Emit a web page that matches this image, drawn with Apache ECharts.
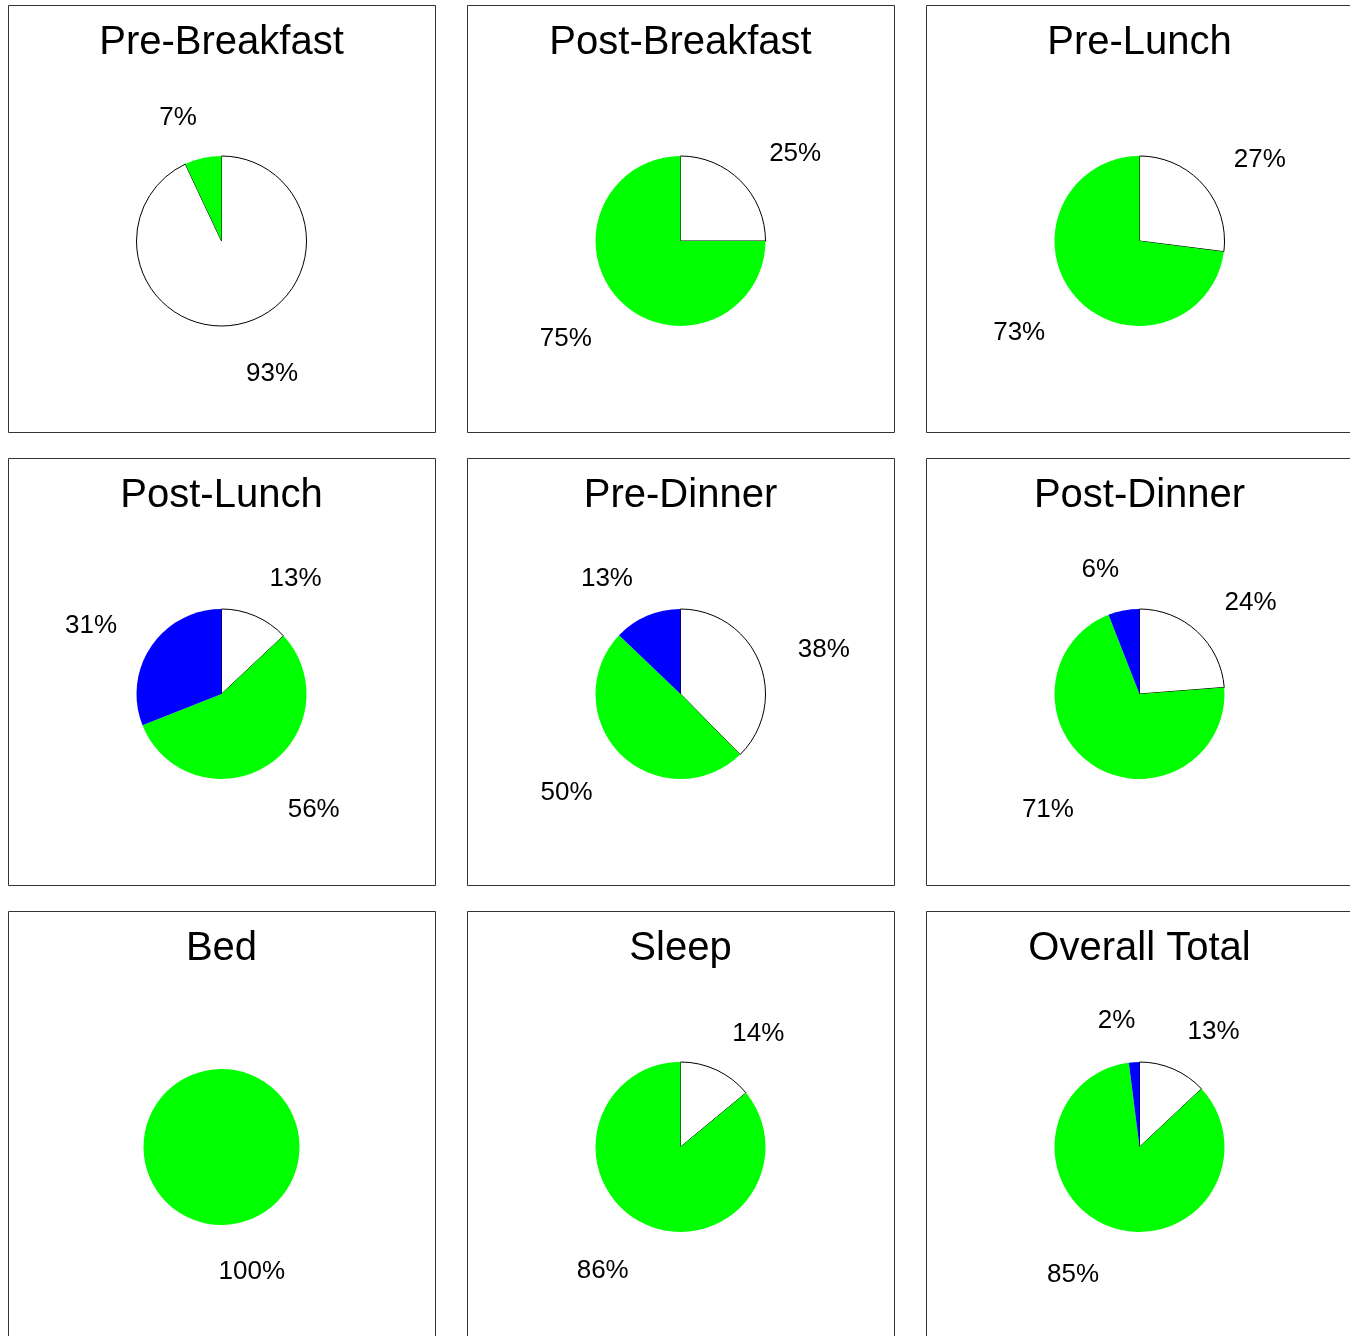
<!DOCTYPE html>
<html><head><meta charset="utf-8">
<script src="https://cdn.jsdelivr.net/npm/echarts@6/dist/echarts.min.js"></script>
<style>html,body{margin:0;padding:0;background:#fff}#c{width:1350px;height:1336px}</style>
</head><body><div id="c"></div>
<script>
// Data
const panelTitles = ['Pre-Breakfast','Post-Breakfast','Pre-Lunch','Post-Lunch','Pre-Dinner','Post-Dinner','Bed','Sleep','Overall Total'];
const whitePct = [93, 25, 27, 13, 38, 24, 0, 14, 13];
const greenPct = [7, 75, 73, 56, 50, 71, 100, 86, 85];
const bluePct  = [0, 0, 0, 31, 13, 6, 0, 0, 2];

// Layout
const panelX0 = 8, panelY0 = 5, pitchX = 459, pitchY = 453, panelSize = 427;
const FONT = 'Liberation Sans, Arial, sans-serif';

const series = [];
const graphics = [];
panelTitles.forEach(function (t, i) {
  const c = i % 3, r = Math.floor(i / 3);
  const x0 = panelX0 + pitchX * c, y0 = panelY0 + pitchY * r;
  const cx = x0 + 213.5, cy = y0 + 236;
  graphics.push({
    type: 'rect', silent: true,
    shape: { x: x0 + 0.5, y: y0 + 0.5, width: panelSize, height: panelSize },
    style: { fill: null, stroke: '#333', lineWidth: 1 }
  });
  graphics.push({
    type: 'text', silent: true,
    style: { text: t, x: cx, y: y0 + 18, align: 'center', verticalAlign: 'top',
      font: 'normal 40px ' + FONT, fill: '#000' }
  });
  const data = [];
  if (whitePct[i] > 0) data.push({ name: 'High', value: whitePct[i],
    itemStyle: { color: '#ffffff', borderColor: '#000', borderWidth: 1 } });
  if (greenPct[i] > 0) data.push({ name: 'In Range', value: greenPct[i],
    itemStyle: { color: '#00ff00', borderWidth: 0 } });
  if (bluePct[i] > 0) data.push({ name: 'Low', value: bluePct[i],
    itemStyle: { color: '#0000ff', borderWidth: 0 } });
  const isBed = t === 'Bed';
  series.push({
    type: 'pie',
    center: [cx, cy],
    radius: isBed ? 78 : 85,
    startAngle: isBed ? 90.5 : 90,
    clockwise: true,
    avoidLabelOverlap: false,
    silent: true,
    label: { show: true, position: 'outside', formatter: '{gap|}\n{v|{c}%}',
      distanceToLabelLine: -4,
      rich: {
        gap: { lineHeight: 10, fontSize: 1 },
        v: { fontSize: 26, lineHeight: 28, fontFamily: FONT, color: '#000' }
      } },
    labelLine: { show: false, length: isBed ? 42 : 46, length2: 0 },
    emphasis: { disabled: true },
    data: data
  });
});

const chart = echarts.init(document.getElementById('c'), null, { renderer: 'canvas' });
chart.setOption({
  animation: false,
  backgroundColor: '#fff',
  graphic: graphics,
  series: series
});
</script>
</body></html>
